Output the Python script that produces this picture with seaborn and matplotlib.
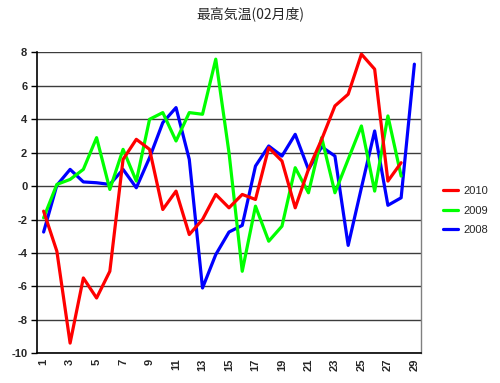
import matplotlib
matplotlib.use("Agg")
import matplotlib.pyplot as plt
import pandas as pd
import seaborn as sns

# Daily max temperature anomalies, February
days = list(range(1, 30))
y2010 = [-1.5, -3.9, -9.4, -5.5, -6.7, -5.1, 1.6, 2.8, 2.2, -1.4,
         -0.3, -2.9, -2.0, -0.5, -1.3, -0.5, -0.8, 2.3, 1.5, -1.3,
         1.0, 2.8, 4.8, 5.5, 7.9, 7.0, 0.3, 1.4]
y2009 = [-1.9, 0.1, 0.4, 1.0, 2.9, -0.2, 2.2, 0.3, 4.0, 4.4,
         2.7, 4.4, 4.3, 7.6, 2.0, -5.1, -1.2, -3.3, -2.4, 1.1,
         -0.4, 2.9, -0.4, 1.6, 3.6, -0.3, 4.2, 0.6]
y2008 = [-2.75, 0.05, 1.0, 0.25, 0.2, 0.1, 1.0, -0.1, 1.7, 3.8,
         4.7, 1.6, -6.1, -4.1, -2.75, -2.35, 1.2, 2.4, 1.8, 3.1,
         1.0, 2.35, 1.8, -3.55, -0.1, 3.3, -1.15, -0.7, 7.3]
series = ["2010", "2009", "2008"]
colors = ["#ff0000", "#00ff00", "#0000ff"]
yticks = list(range(-10, 10, 2))
title = "最高気温(02月度)"

rows = []
for name, vals in [("2008", y2008), ("2009", y2009), ("2010", y2010)]:
    for d, v in zip(days, vals):
        rows.append({"day": d, "temp": v, "year": name})
df = pd.DataFrame(rows)

sns.set_theme(style="white")
plt.rcParams["font.family"] = ["Liberation Sans", "DejaVu Sans"]

fig = plt.figure(figsize=(5, 3.83), dpi=100)
ax = fig.add_axes([0.074, 0.078, 0.768, 0.785])

ax.grid(False)
for t in yticks:
    ax.axhline(t, color="#3c3c3c", lw=1.0, zorder=0)

# draw 2010 last so it sits on top, like the original
sns.lineplot(data=df, x="day", y="temp", hue="year",
             hue_order=series[::-1], palette=dict(zip(series, colors)),
             linewidth=2.3, ax=ax, legend=False, sort=False)

ax.set_xlim(0.5, 29.5)
ax.set_ylim(-10, 8)
ax.set_yticks(yticks)
ax.set_yticklabels([str(t) for t in yticks], fontsize=8, fontweight="bold")
ax.set_xticks(days)
ax.set_xticklabels([str(d) if d % 2 == 1 else "" for d in days],
                   rotation=90, fontsize=8, fontweight="bold")
ax.tick_params(axis="y", length=4, width=1, color="black", pad=3, left=True)
ax.tick_params(axis="x", length=0, pad=4)
ax.set_xlabel("")
ax.set_ylabel("")

for side in ["left", "bottom"]:
    ax.spines[side].set_color("black")
    ax.spines[side].set_linewidth(1.2)
ax.spines["right"].set_color("#808080")
ax.spines["right"].set_linewidth(1.0)
ax.spines["top"].set_visible(False)

handles = [plt.Line2D([], [], color=c, lw=2.3) for c in colors]
fig.legend(handles, series, loc="center left", bbox_to_anchor=(0.865, 0.45),
           frameon=False, fontsize=8, handlelength=1.4, handletextpad=0.5,
           labelspacing=0.85)

fig.text(0.5, 0.965, title, ha="center", va="center", fontsize=10,
         family=["Noto Sans CJK JP", "DejaVu Sans"])

fig.savefig("out.png", dpi=100)
